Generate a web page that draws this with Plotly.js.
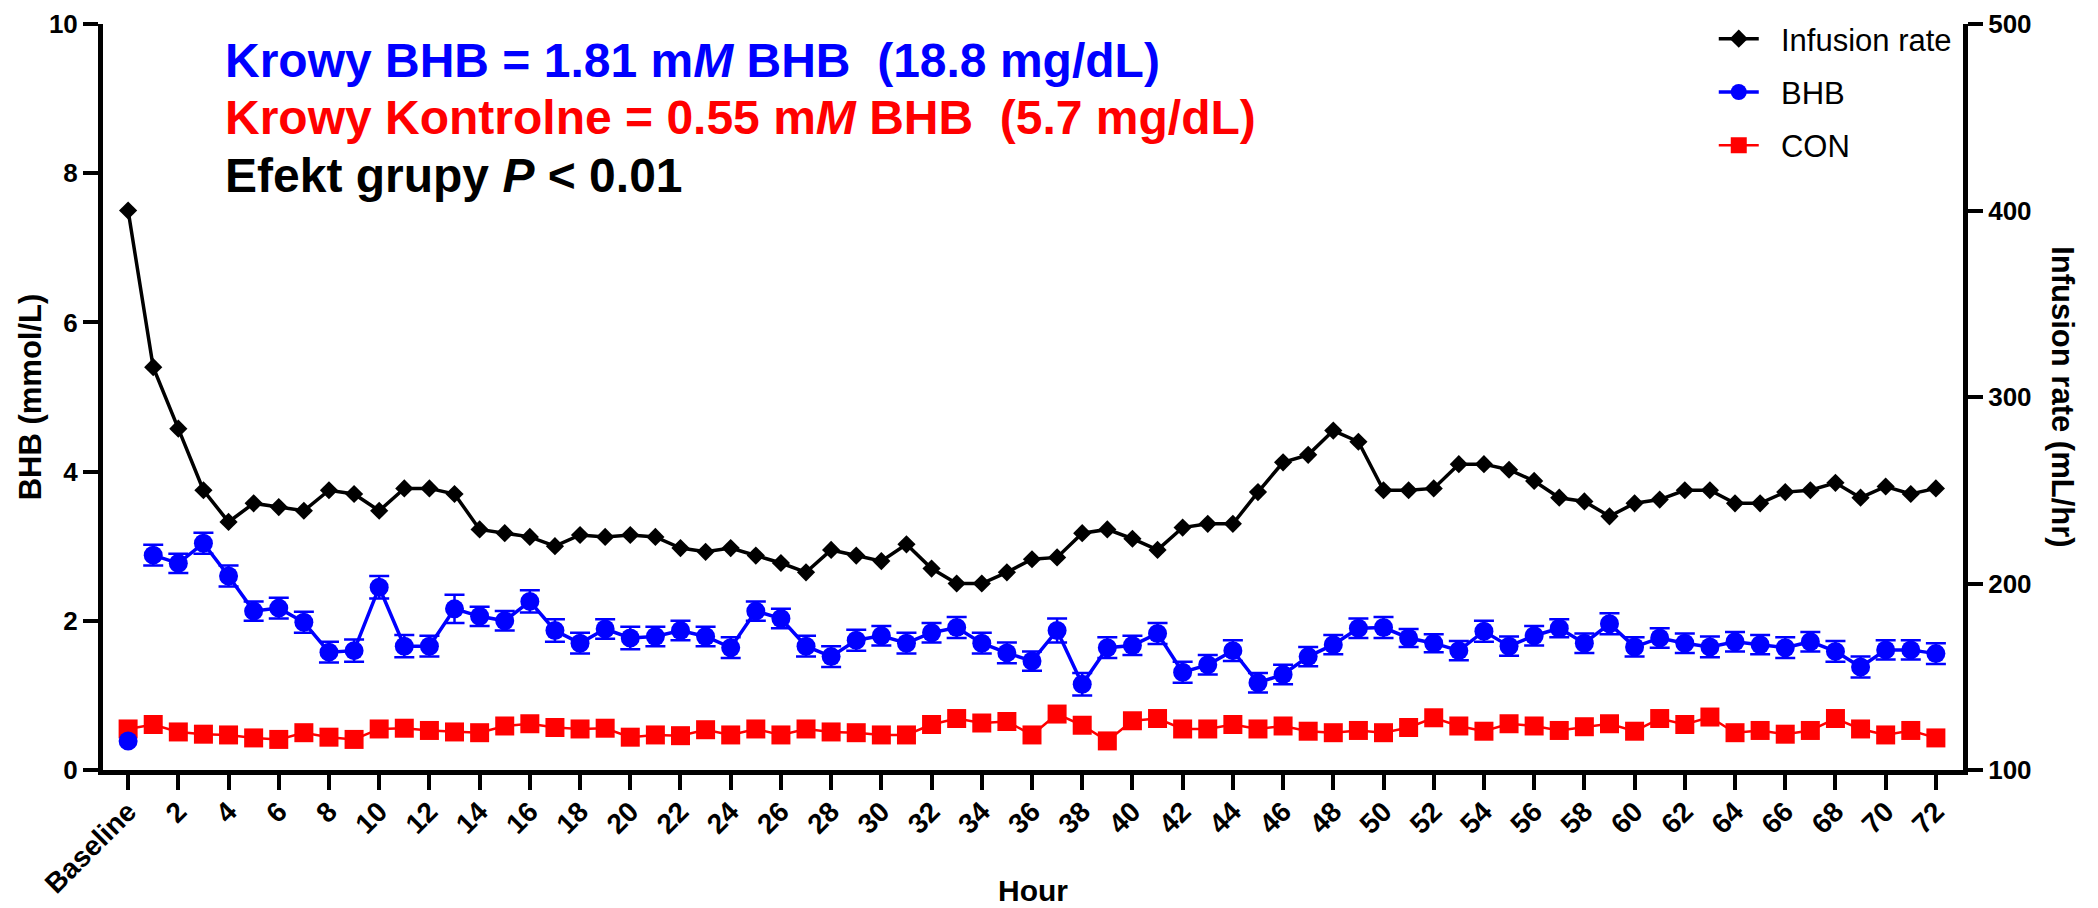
<!DOCTYPE html>
<html>
<head>
<meta charset="utf-8">
<script src="https://cdn.plot.ly/plotly-3.0.1.min.js"></script>
<style>
  html, body { margin: 0; padding: 0; background: #ffffff; }
  #chart { width: 2098px; height: 908px; }
</style>
</head>
<body>
<div id="chart"></div>
<script>
// Sampling hour (0 = baseline), one point per hour
const hours = [0, 1, 2, 3, 4, 5, 6, 7, 8, 9, 10, 11, 12, 13, 14, 15, 16, 17, 18, 19, 20, 21, 22, 23,
  24, 25, 26, 27, 28, 29, 30, 31, 32, 33, 34, 35, 36, 37, 38, 39, 40, 41, 42, 43, 44, 45, 46, 47,
  48, 49, 50, 51, 52, 53, 54, 55, 56, 57, 58, 59, 60, 61, 62, 63, 64, 65, 66, 67, 68, 69, 70, 71, 72];

// Infusion rate, mL/hr (right axis)
const infusionRate = [400, 316, 283, 250, 233, 243, 241, 239, 250, 248, 239, 251,
  251, 248, 229, 227, 225, 220, 226, 225, 226, 225, 219, 217,
  219, 215, 211, 206, 218, 215, 212, 221, 208, 200, 200, 206,
  213, 214, 227, 229, 224, 218, 230, 232, 232, 249, 265, 269,
  282, 276, 250, 250, 251, 264, 264, 261, 255, 246, 244, 236,
  243, 245, 250, 250, 243, 243, 249, 250, 254, 246, 252, 248, 251];

// Plasma BHB in BHB-infused cows, mmol/L (mean and SEM)
const bhbMean = [0.39, 2.88, 2.77, 3.04, 2.60, 2.13, 2.17, 1.98, 1.58, 1.60, 2.45, 1.66,
  1.66, 2.16, 2.06, 2.00, 2.26, 1.87, 1.70, 1.89, 1.77, 1.79, 1.87, 1.79,
  1.64, 2.13, 2.03, 1.66, 1.52, 1.74, 1.80, 1.70, 1.84, 1.91, 1.70, 1.57,
  1.46, 1.87, 1.15, 1.64, 1.67, 1.83, 1.31, 1.41, 1.60, 1.17, 1.28, 1.52,
  1.68, 1.90, 1.91, 1.77, 1.70, 1.60, 1.86, 1.66, 1.80, 1.90, 1.70, 1.96,
  1.65, 1.77, 1.70, 1.65, 1.72, 1.68, 1.64, 1.72, 1.59, 1.38, 1.61, 1.61, 1.56];
const bhbSem = [0, 0.14, 0.13, 0.14, 0.14, 0.13, 0.14, 0.14, 0.14, 0.15, 0.15, 0.15,
  0.14, 0.19, 0.13, 0.13, 0.15, 0.15, 0.14, 0.13, 0.15, 0.13, 0.13, 0.13,
  0.14, 0.13, 0.13, 0.14, 0.14, 0.14, 0.13, 0.14, 0.13, 0.14, 0.14, 0.14,
  0.13, 0.16, 0.15, 0.14, 0.13, 0.14, 0.14, 0.13, 0.14, 0.13, 0.13, 0.13,
  0.13, 0.13, 0.14, 0.12, 0.12, 0.13, 0.14, 0.13, 0.13, 0.12, 0.13, 0.14,
  0.13, 0.13, 0.13, 0.14, 0.13, 0.13, 0.14, 0.13, 0.14, 0.14, 0.13, 0.13, 0.14];

// Plasma BHB in control cows, mmol/L
const conMean = [0.55, 0.61, 0.51, 0.48, 0.47, 0.43, 0.41, 0.50, 0.44, 0.41, 0.55, 0.56,
  0.53, 0.51, 0.50, 0.59, 0.62, 0.57, 0.55, 0.56, 0.44, 0.47, 0.46, 0.54,
  0.47, 0.55, 0.47, 0.55, 0.51, 0.50, 0.47, 0.47, 0.61, 0.69, 0.63, 0.65,
  0.47, 0.75, 0.60, 0.39, 0.66, 0.69, 0.55, 0.55, 0.61, 0.55, 0.59, 0.52,
  0.50, 0.53, 0.50, 0.57, 0.70, 0.59, 0.52, 0.62, 0.59, 0.53, 0.58, 0.62,
  0.52, 0.69, 0.61, 0.71, 0.50, 0.53, 0.48, 0.53, 0.69, 0.55, 0.47, 0.53, 0.43];

// Labelled ticks on the hour axis
const hourTickVals = [0, 2, 4, 6, 8, 10, 12, 14, 16, 18, 20, 22, 24, 26, 28, 30, 32, 34, 36,
  38, 40, 42, 44, 46, 48, 50, 52, 54, 56, 58, 60, 62, 64, 66, 68, 70, 72];
const hourTickText = ['Baseline', '2', '4', '6', '8', '10', '12', '14', '16', '18', '20', '22',
  '24', '26', '28', '30', '32', '34', '36', '38', '40', '42', '44', '46', '48', '50', '52',
  '54', '56', '58', '60', '62', '64', '66', '68', '70', '72'];

const FONT = 'Liberation Sans, Arial, Helvetica, sans-serif';
const BLUE = '#0000ff';
const RED = '#ff0000';
const BLACK = '#000000';
const NBSP2 = '\u00a0\u00a0';   // a little air between legend symbol and label

const bhbMarker = { symbol: 'circle', size: 19, color: BLUE };

const traces = [
  {
    name: NBSP2 + 'CON',
    x: hours, y: conMean,
    type: 'scatter', mode: 'lines+markers',
    line: { color: RED, width: 2.5 },
    marker: { symbol: 'square', size: 19, color: RED },
    legendgroup: 'con', legendrank: 3
  },
  {
    // baseline sample stands apart from the infusion-period curve
    name: 'BHB baseline',
    x: hours.slice(0, 1), y: bhbMean.slice(0, 1),
    type: 'scatter', mode: 'markers',
    marker: bhbMarker,
    legendgroup: 'bhb', showlegend: false
  },
  {
    name: NBSP2 + 'BHB',
    x: hours.slice(1), y: bhbMean.slice(1),
    type: 'scatter', mode: 'lines+markers',
    line: { color: BLUE, width: 3.5 },
    marker: bhbMarker,
    error_y: { type: 'data', array: bhbSem.slice(1), visible: true, color: BLUE, thickness: 2.5, width: 10 },
    legendgroup: 'bhb', legendrank: 2
  },
  {
    name: NBSP2 + 'Infusion rate',
    x: hours, y: infusionRate,
    yaxis: 'y2',
    type: 'scatter', mode: 'lines+markers',
    line: { color: BLACK, width: 3.5 },
    marker: { symbol: 'diamond', size: 14, color: BLACK },
    legendgroup: 'inf', legendrank: 1
  }
];

const tickFont = { family: FONT, size: 26, color: BLACK, weight: 'bold' };

const layout = {
  width: 2098, height: 908,
  margin: { l: 103, r: 135, t: 20, b: 138 },
  paper_bgcolor: '#ffffff', plot_bgcolor: '#ffffff',
  font: { family: FONT, color: BLACK },
  showlegend: true,
  legend: {
    x: 0.866, y: 1.016, xanchor: 'left', yanchor: 'top',
    font: { family: FONT, size: 31, color: BLACK },
    bgcolor: 'rgba(0,0,0,0)', borderwidth: 0,
    tracegroupgap: 10, itemwidth: 40
  },
  xaxis: {
    range: [-1, 73.08], autorange: false,
    tickmode: 'array', tickvals: hourTickVals, ticktext: hourTickText,
    tickangle: -45, tickfont: { family: FONT, size: 28, color: BLACK, weight: 'bold' },
    ticklabelstandoff: -6,
    ticks: 'outside', ticklen: 15, tickwidth: 4, tickcolor: BLACK,
    showline: true, linewidth: 5, linecolor: BLACK,
    showgrid: false, zeroline: false, automargin: false
  },
  yaxis: {
    range: [0, 10], autorange: false,
    tickmode: 'linear', tick0: 0, dtick: 2,
    tickfont: tickFont,
    ticks: 'outside', ticklen: 15, tickwidth: 4, tickcolor: BLACK,
    showline: true, linewidth: 5, linecolor: BLACK,
    showgrid: false, zeroline: false, automargin: false,
    title: { text: 'BHB (mmol/L)', font: { family: FONT, size: 31, color: BLACK, weight: 'bold' }, standoff: 0 }
  },
  yaxis2: {
    overlaying: 'y', side: 'right', anchor: 'x',
    range: [100, 500], autorange: false,
    tickmode: 'linear', tick0: 100, dtick: 100,
    tickfont: tickFont,
    ticks: 'outside', ticklen: 15, tickwidth: 4, tickcolor: BLACK,
    showline: true, linewidth: 5, linecolor: BLACK,
    showgrid: false, zeroline: false, automargin: false
  },
  annotations: [
    {
      xref: 'paper', yref: 'paper', x: 0.0645, y: 0.951, xanchor: 'left', yanchor: 'middle',
      showarrow: false,
      text: '<b>Krowy BHB = 1.81 m<i>M</i> BHB\u00a0\u00a0(18.8 mg/dL)</b>',
      font: { family: FONT, size: 48, color: BLUE }
    },
    {
      xref: 'paper', yref: 'paper', x: 0.0645, y: 0.874, xanchor: 'left', yanchor: 'middle',
      showarrow: false,
      text: '<b>Krowy Kontrolne = 0.55 m<i>M</i> BHB\u00a0\u00a0(5.7 mg/dL)</b>',
      font: { family: FONT, size: 48, color: RED }
    },
    {
      xref: 'paper', yref: 'paper', x: 0.0645, y: 0.797, xanchor: 'left', yanchor: 'middle',
      showarrow: false,
      text: '<b>Efekt grupy <i>P</i> < 0.01</b>',
      font: { family: FONT, size: 48, color: BLACK }
    },
    {
      // hour axis title
      xref: 'paper', yref: 'paper', x: 0.5, y: -0.161, xanchor: 'center', yanchor: 'middle',
      showarrow: false, text: '<b>Hour</b>',
      font: { family: FONT, size: 30, color: BLACK }
    },
    {
      // right-axis title, reading top to bottom
      xref: 'paper', yref: 'paper', x: 1.0538, y: 0.501, xanchor: 'center', yanchor: 'middle',
      showarrow: false, textangle: 90, text: '<b>Infusion rate (mL/hr)</b>',
      font: { family: FONT, size: 31, color: BLACK }
    }
  ]
};

Plotly.newPlot('chart', traces, layout, { displayModeBar: false, staticPlot: true });
</script>
</body>
</html>
